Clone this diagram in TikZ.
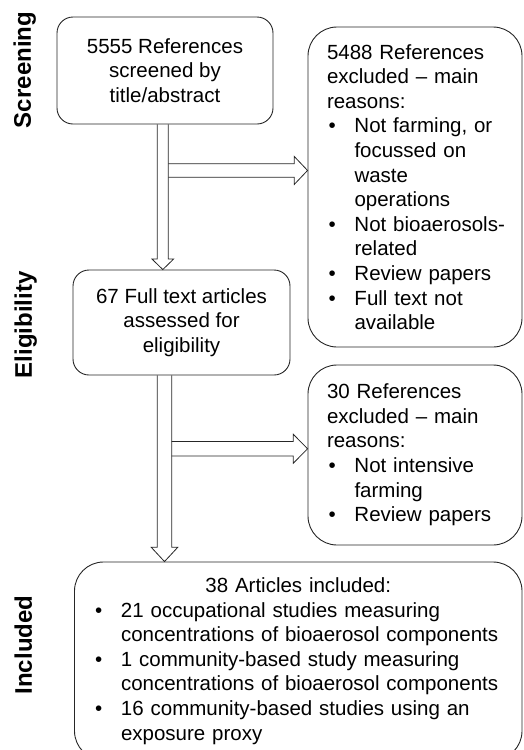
\documentclass[tikz,border=0pt]{standalone}
\usepackage{fontspec}
\setmainfont{Liberation Sans}
\usepackage{tikz}
\usetikzlibrary{positioning,calc}

\newcommand{\bul}{\makebox[27.5pt][l]{\hspace{1.5pt}\textbullet}}
\newcommand{\ind}{\hspace*{27.5pt}}

\begin{document}
\begin{tikzpicture}[x=1pt,y=-1pt,line width=0.9pt,
  stagebox/.style={draw=black!85,rounded corners=16pt,align=center,inner sep=0pt,
    font=\fontsize{20.5}{24.6}\selectfont},
  exclbox/.style={draw=black!85,rounded corners=29pt,align=left,inner xsep=19pt,inner ysep=0pt,
    font=\fontsize{20.5}{24.6}\selectfont},
  phase/.style={rotate=90,anchor=north,inner sep=0pt,font=\bfseries\fontsize{24}{28}\selectfont},
  blk/.style={draw=black!85,line width=0.8pt,line join=miter}]
  \useasboundingbox (0,0) rectangle (523,750);

  % Phase labels on the left
  \node[phase] (lscreen) at (13,70) {Screening};
  \node[phase] (lelig) at (14,325) {Eligibility};
  \node[phase] (lincl) at (14,645) {Included};

  % Main column
  \node[stagebox,minimum width=216pt,minimum height=107pt] (screen) at (165,70.5)
    {5555 References\\screened by\\title/abstract};
  \node[stagebox,minimum width=217pt,minimum height=105pt] (elig) at (181.5,322.5)
    {67 Full text articles\\assessed for\\eligibility};

  % Exclusion boxes on the right
  \node[exclbox,text width=176pt,minimum height=320pt] (excl1) at (415,187)
    {5488 References\\excluded -- main\\reasons:\\
     \bul Not farming, or\\\ind focussed on\\\ind waste\\\ind operations\\
     \bul \mbox{Not bioaerosols-}\\\ind related\\
     \bul Review papers\\
     \bul Full text not\\\ind available};
  \node[exclbox,text width=176pt,minimum height=180pt] (excl2) at (415,455)
    {30 References\\excluded -- main\\reasons:\\
     \bul Not intensive\\\ind farming\\
     \bul Review papers};

  % Included studies
  \node[exclbox,text width=409.5pt,minimum height=198pt] (incl) at (298.25,661)
    {\makebox[409.5pt][c]{38 Articles included:}\\
     \bul 21 occupational studies measuring\\\ind concentrations of bioaerosol components\\
     \bul 1 community-based study measuring\\\ind concentrations of bioaerosol components\\
     \bul 16 community-based studies using an\\\ind exposure proxy};

  % Block arrow: screening -> eligibility
  \coordinate (d1) at ($(screen.south)+(-2.2,0)$);
  \coordinate (d1tip) at (d1 |- elig.north);
  \draw[blk] ($(d1)+(-5.5,0)$) -- ($(d1tip)+(-5.5,-10.5)$) -- ($(d1tip)+(-10.8,-10.5)$) -- (d1tip)
    -- ($(d1tip)+(10.8,-10.5)$) -- ($(d1tip)+(5.5,-10.5)$) -- ($(d1)+(5.5,0)$);
  % side arrow to first exclusion box
  \coordinate (r1) at ($(d1)+(5.5,46)$);
  \coordinate (r1tip) at (r1 -| excl1.west);
  \draw[blk] ($(r1)+(0,-6.7)$) -- ($(r1tip)+(-13.3,-6.7)$) -- ($(r1tip)+(-13.3,-14)$) -- (r1tip)
    -- ($(r1tip)+(-13.3,14)$) -- ($(r1tip)+(-13.3,6.7)$) -- ($(r1)+(0,6.7)$);

  % Block arrow: eligibility -> included
  \coordinate (d2) at ($(elig.south)+(-17,0)$);
  \coordinate (d2tip) at (d2 |- incl.north);
  \draw[blk] ($(d2)+(-7.2,0)$) -- ($(d2tip)+(-7.2,-14.3)$) -- ($(d2tip)+(-13.3,-14.3)$) -- (d2tip)
    -- ($(d2tip)+(13.3,-14.3)$) -- ($(d2tip)+(7.2,-14.3)$) -- ($(d2)+(7.2,0)$);
  % side arrow to second exclusion box
  \coordinate (r2) at ($(d2)+(7.2,73.3)$);
  \coordinate (r2tip) at (r2 -| excl2.west);
  \draw[blk] ($(r2)+(0,-7.3)$) -- ($(r2tip)+(-14.3,-7.3)$) -- ($(r2tip)+(-14.3,-14.5)$) -- (r2tip)
    -- ($(r2tip)+(-14.3,14.5)$) -- ($(r2tip)+(-14.3,7.3)$) -- ($(r2)+(0,7.3)$);
\end{tikzpicture}
\end{document}
